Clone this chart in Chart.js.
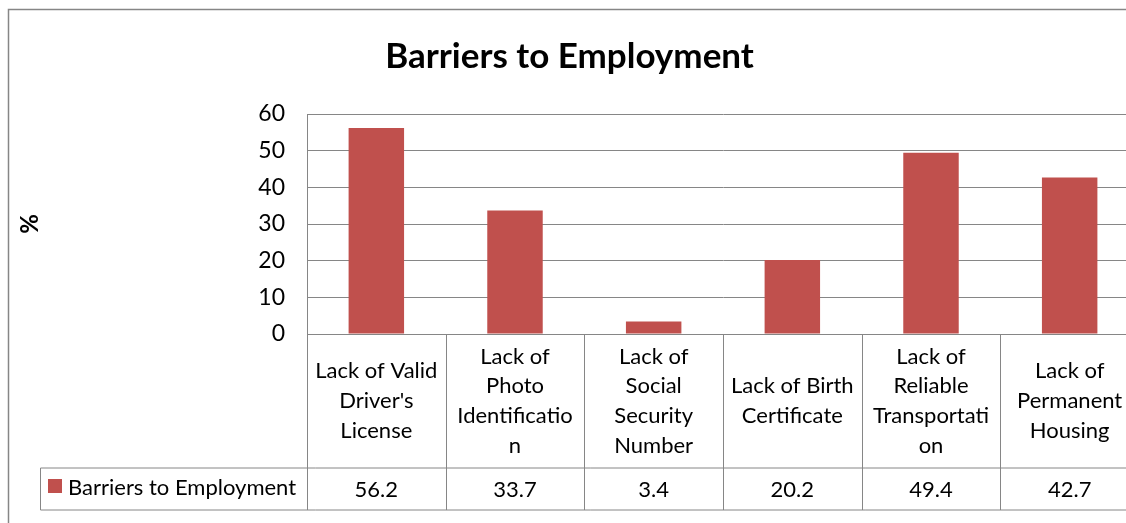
<!DOCTYPE html>
<html>
<head>
<meta charset="utf-8">
<script src="https://cdn.jsdelivr.net/npm/chart.js@4/dist/chart.umd.min.js"></script>
<style>
    html, body { margin: 0; padding: 0; background: #fff; overflow: hidden; }
    #wrap { position: relative; width: 1140px; height: 523px; }
</style>
</head>
<body>
<div id="wrap"><canvas id="wykres"></canvas></div>
<script>
    // Dane wykresu
    const kategorie = [
        ['Lack of Valid', "Driver's", 'License'],
        ['Lack of', 'Photo', 'Identificatio', 'n'],
        ['Lack of', 'Social', 'Security', 'Number'],
        ['Lack of Birth', 'Certificate'],
        ['Lack of', 'Reliable', 'Transportati', 'on'],
        ['Lack of', 'Permanent', 'Housing']
    ];
    const nazwaSerii = 'Barriers to Employment';
    const wartosci = [56.2, 33.7, 3.4, 20.2, 49.4, 42.7];
    const osY = { min: 0, max: 60, krok: 10 };

    const CZCIONKA = 'Lato, Carlito, Calibri, sans-serif';
    const SZARY = '#868686';
    const CZERWONY = '#C0504D';

    // ramka wykresu + tabela danych pod osią X
    const ramka = {
        id: 'ramka',
        beforeDraw(chart) {
            const ctx = chart.ctx;
            ctx.save();
            ctx.fillStyle = '#fff';
            ctx.fillRect(0, 0, chart.width, chart.height);
            ctx.strokeStyle = SZARY;
            ctx.lineWidth = 1.5;
            ctx.beginPath();
            ctx.moveTo(8.5, chart.height);
            ctx.lineTo(8.5, 9.5);
            ctx.lineTo(chart.width, 9.5);
            ctx.stroke();
            ctx.restore();
        }
    };

    const tabelaDanych = {
        id: 'tabelaDanych',
        afterDraw(chart) {
            const { ctx, chartArea } = chart;
            const x = chart.scales.x;
            const gora = chartArea.bottom;
            const wierszDol = gora + 134;
            const dol = wierszDol + 42;
            const pol = (x.getPixelForValue(1) - x.getPixelForValue(0)) / 2;
            const lewaTabeli = 40.5;

            ctx.save();
            ctx.strokeStyle = SZARY;
            ctx.lineWidth = 1;
            ctx.beginPath();
            // pionowe linie kolumn
            for (let i = 0; i <= chart.data.labels.length; i++) {
                const px = Math.round(x.getPixelForValue(i) - pol) + 0.5;
                ctx.moveTo(px, gora);
                ctx.lineTo(px, dol);
            }
            ctx.moveTo(lewaTabeli, wierszDol);
            ctx.lineTo(chart.width, wierszDol);
            ctx.moveTo(lewaTabeli, dol);
            ctx.lineTo(chart.width, dol);
            ctx.moveTo(lewaTabeli, wierszDol);
            ctx.lineTo(lewaTabeli, dol);
            ctx.stroke();

            ctx.fillStyle = '#000';
            ctx.font = '22px ' + CZCIONKA;
            ctx.textAlign = 'center';
            ctx.textBaseline = 'middle';
            const wysLinii = 29.7;
            chart.data.labels.forEach((linie, i) => {
                const cx = x.getPixelForValue(i);
                const srodek = (gora + wierszDol) / 2;
                const start = srodek - (linie.length - 1) * wysLinii / 2;
                linie.forEach((t, j) => ctx.fillText(t, cx, start + j * wysLinii));
                const v = chart.data.datasets[0].data[i];
                ctx.fillText(v.toFixed(1), cx, (wierszDol + dol) / 2 + 1);
            });

            // klucz legendy w pierwszej komórce wiersza
            const ds = chart.data.datasets[0];
            ctx.fillStyle = ds.backgroundColor;
            ctx.fillRect(48, wierszDol + 11, 14, 14);
            ctx.fillStyle = '#000';
            ctx.textAlign = 'left';
            ctx.fillText(ds.label, 68, (wierszDol + dol) / 2 - 1);
            ctx.restore();
        }
    };

    new Chart(document.getElementById('wykres'), {
        type: 'bar',
        data: {
            labels: kategorie,
            datasets: [{
                label: nazwaSerii,
                data: wartosci,
                backgroundColor: CZERWONY,
                barPercentage: 0.4,
                categoryPercentage: 1
            }]
        },
        options: {
            responsive: true,
            maintainAspectRatio: false,
            animation: false,
            devicePixelRatio: 1,
            layout: { padding: { left: 0, right: 1, top: 0, bottom: 189 } },
            plugins: {
                legend: { display: false },
                tooltip: { enabled: false },
                title: {
                    display: true,
                    text: nazwaSerii,
                    color: '#000',
                    font: { family: CZCIONKA, size: 35, weight: 'bold', lineHeight: 1.2 },
                    padding: { top: 36, bottom: 36 }
                }
            },
            scales: {
                x: {
                    display: false
                },
                y: {
                    min: osY.min,
                    max: osY.max,
                    ticks: {
                        stepSize: osY.krok,
                        color: '#000',
                        padding: 22,
                        font: { family: CZCIONKA, size: 23 }
                    },
                    grid: { color: SZARY, lineWidth: 1, drawTicks: false },
                    border: { display: true, color: SZARY, width: 1 },
                    title: {
                        display: true,
                        text: '%',
                        color: '#000',
                        font: { family: CZCIONKA, size: 24, weight: 'bold' },
                        padding: { top: 16, bottom: 0 }
                    },
                    afterFit(skala) { skala.width = 307; }
                }
            }
        },
        plugins: [ramka, tabelaDanych]
    });
</script>
</body>
</html>
